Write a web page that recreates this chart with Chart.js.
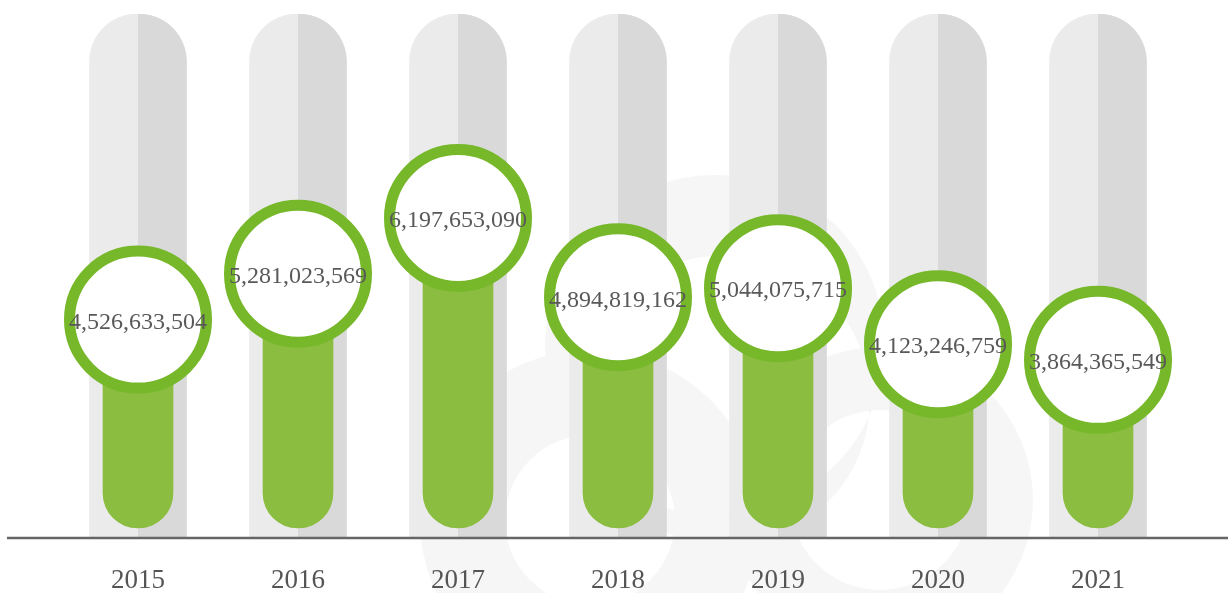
<!DOCTYPE html>
<html>
<head>
<meta charset="utf-8">
<script src="https://cdn.jsdelivr.net/npm/chart.js@4.4.0/dist/chart.umd.min.js"></script>
<style>
  html, body { margin: 0; padding: 0; background: #fff; }
  #wrap { width: 1228px; height: 593px; }
</style>
</head>
<body>
<div id="wrap"><canvas id="sales-chart"></canvas></div>
<script>
const years = ['2015', '2016', '2017', '2018', '2019', '2020', '2021'];
const totals = [4526633504, 5281023569, 6197653090, 4894819162, 5044075715, 4123246759, 3864365549];

// axis range; the grey tracks run the full height of it
const axisMin = 951000000;
const axisMax = 9553000000;
// where the green columns stop, just above the baseline
const columnBase = 1099000000;

const tracks = years.map(() => [axisMin, axisMax]);
const columns = totals.map(v => [columnBase, v]);

// two-tone track: light left half, darker right half
function trackFill(ctx) {
    const chart = ctx.chart;
    const xScale = chart.scales.x;
    if (!xScale || ctx.dataIndex === undefined) return '#e3e3e3';
    const cx = xScale.getPixelForValue(ctx.dataIndex);
    if (!isFinite(cx)) return '#e3e3e3';
    const g = chart.ctx.createLinearGradient(cx - 0.5, 0, cx + 0.5, 0);
    g.addColorStop(0, '#ebebeb');
    g.addColorStop(0.5, '#ebebeb');
    g.addColorStop(0.5, '#d9d9d9');
    g.addColorStop(1, '#d9d9d9');
    return g;
}

// ring shape: outer circle minus an inner (possibly offset) circle
function ring(c, ox, oy, or, ix, iy, ir) {
    c.beginPath();
    c.arc(ox, oy, or, 0, Math.PI * 2);
    c.moveTo(ix + ir, iy);
    c.arc(ix, iy, ir, 0, Math.PI * 2);
    c.fill('evenodd');
}

const backdrop = {
    id: 'backdrop',
    beforeDraw(chart) {
        const c = chart.ctx;
        c.save();
        c.fillStyle = '#fff';
        c.fillRect(0, 0, chart.width, chart.height);
        // faint logo behind the chart
        c.fillStyle = '#f6f6f6';
        ring(c, 715, 345, 170, 725, 400, 145);
        ring(c, 590, 520, 170, 590, 520, 85);
        ring(c, 880, 500, 153, 880, 500, 90);
        c.restore();
    }
};

const baseline = {
    id: 'baseline',
    afterDatasetsDraw(chart) {
        const c = chart.ctx;
        const y = chart.scales.y.getPixelForValue(axisMin) + 1;
        c.save();
        c.strokeStyle = '#666';
        c.lineWidth = 2.5;
        c.beginPath();
        c.moveTo(7, y);
        c.lineTo(chart.width, y);
        c.stroke();
        c.restore();
    }
};

const valueLabels = {
    id: 'valueLabels',
    afterDatasetsDraw(chart) {
        const meta = chart.getDatasetMeta(2);
        const c = chart.ctx;
        c.save();
        c.font = '24px "Liberation Serif"';
        c.fillStyle = '#595959';
        c.textAlign = 'center';
        c.textBaseline = 'middle';
        meta.data.forEach((pt, i) => {
            c.fillText(totals[i].toLocaleString('en-US'), pt.x, pt.y + 3);
        });
        c.restore();
    }
};

const ctx = document.getElementById('sales-chart').getContext('2d');
new Chart(ctx, {
    data: {
        labels: years,
        datasets: [{
            type: 'bar',
            data: tracks,
            backgroundColor: trackFill,
            barThickness: 97,
            grouped: false,
            borderSkipped: false,
            borderRadius: { topLeft: 48, topRight: 48, bottomLeft: 0, bottomRight: 0 },
            order: 3
        }, {
            type: 'bar',
            data: columns,
            backgroundColor: '#8bbd40',
            barThickness: 70,
            grouped: false,
            borderSkipped: false,
            borderRadius: { topLeft: 0, topRight: 0, bottomLeft: 35, bottomRight: 35 },
            order: 2
        }, {
            type: 'line',
            data: totals,
            showLine: false,
            pointRadius: 68.5,
            pointHoverRadius: 68.5,
            pointBorderWidth: 11,
            pointBackgroundColor: '#fff',
            pointBorderColor: '#76b82a',
            clip: false,
            order: 1
        }]
    },
    options: {
        responsive: true,
        maintainAspectRatio: false,
        animation: false,
        layout: {
            autoPadding: false,
            padding: { left: 58, right: 50, top: 14, bottom: 0 }
        },
        plugins: {
            legend: { display: false },
            tooltip: { enabled: false }
        },
        scales: {
            x: {
                grid: { display: false, drawTicks: false },
                border: { display: false },
                ticks: {
                    color: '#555',
                    padding: 30,
                    font: { family: 'Liberation Serif', size: 27, lineHeight: 1 }
                },
                // keep the label strip short so the plot reaches down to the baseline
                afterFit(scale) {
                    scale.height = 56;
                }
            },
            y: {
                display: false,
                min: axisMin,
                max: axisMax
            }
        }
    },
    plugins: [backdrop, baseline, valueLabels]
});
</script>
</body>
</html>
